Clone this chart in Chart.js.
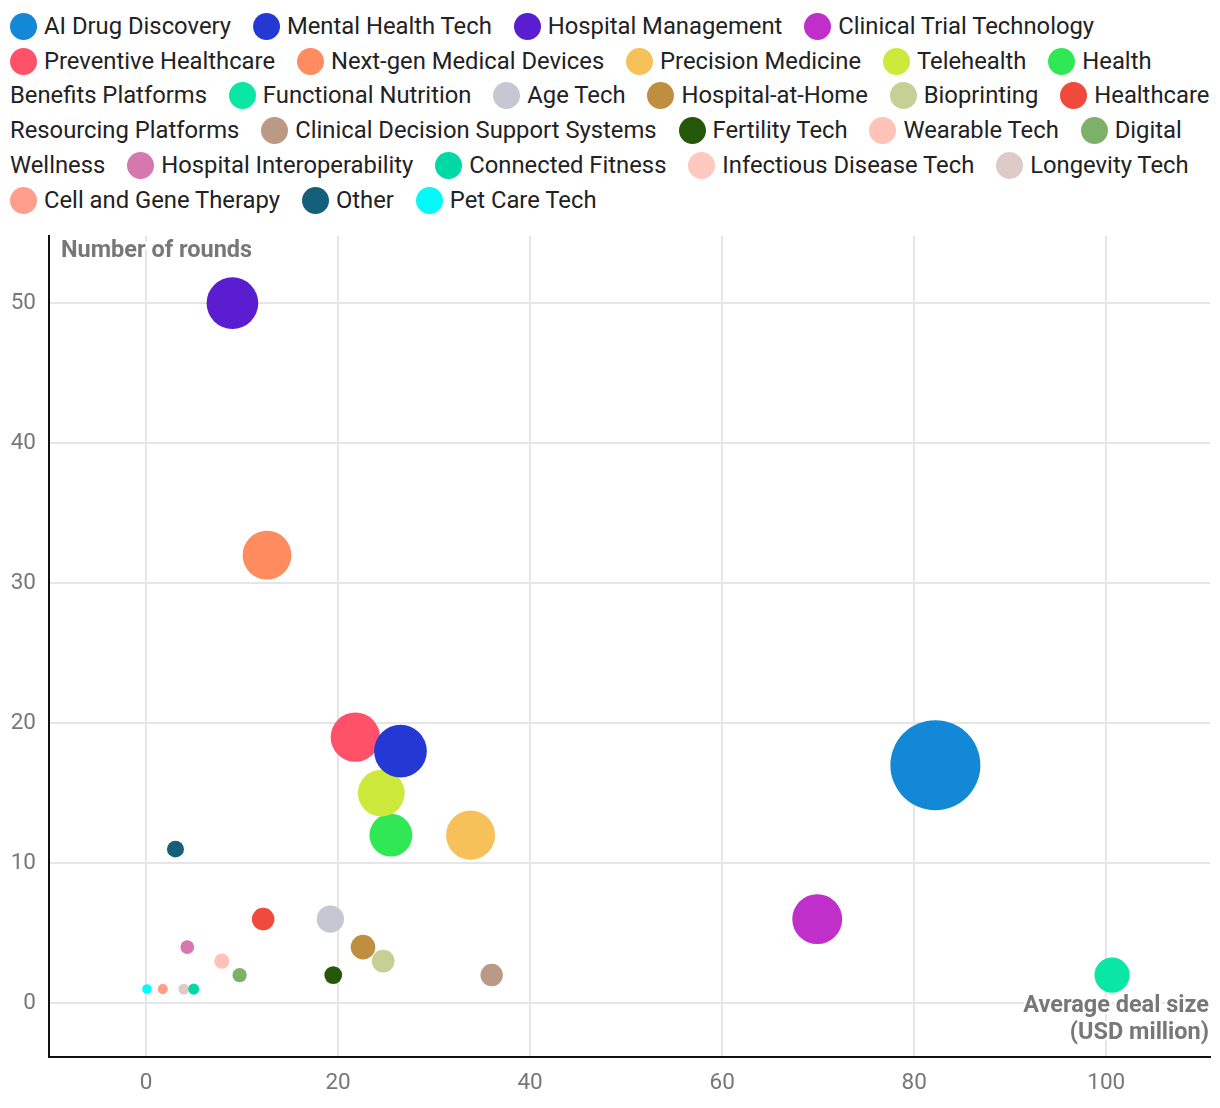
<!DOCTYPE html>
<html>
<head>
<meta charset="utf-8">
<script src="https://cdn.jsdelivr.net/npm/chart.js@4/dist/chart.umd.min.js"></script>
<style>
  body { margin: 0; background: #fff; font-family: Roboto, sans-serif; }
  #legend {
    position: absolute; left: 10px; top: 9px; width: 1205px;
    font-size: 23.8px; line-height: 34.7px; color: #222;
  }
  #legend .dot {
    display: inline-block; width: 27px; height: 27px; border-radius: 50%;
    vertical-align: -6px; margin-right: 7px;
  }
  #legend .head { white-space: nowrap; }
  #legend .lbl { margin-right: 16px; }
  #wrap { position: absolute; left: 0; top: 225px; width: 1220px; height: 883px; }
</style>
</head>
<body>
<div id="legend"></div>
<div id="wrap"><canvas id="chart"></canvas></div>
<script>
(function() {
  'use strict';
  // カテゴリ
  const categories = [
    'AI Drug Discovery', 'Mental Health Tech', 'Hospital Management', 'Clinical Trial Technology',
    'Preventive Healthcare', 'Next-gen Medical Devices', 'Precision Medicine', 'Telehealth',
    'Health Benefits Platforms', 'Functional Nutrition', 'Age Tech', 'Hospital-at-Home',
    'Bioprinting', 'Healthcare Resourcing Platforms', 'Clinical Decision Support Systems',
    'Fertility Tech', 'Wearable Tech', 'Digital Wellness', 'Hospital Interoperability',
    'Connected Fitness', 'Infectious Disease Tech', 'Longevity Tech', 'Cell and Gene Therapy',
    'Other', 'Pet Care Tech'
  ];
  // 平均案件規模 (USD million)
  const avgDealSize = [
    82.2, 26.5, 9.0, 69.9,
    21.8, 12.6, 33.8, 24.5,
    25.5, 100.6, 19.2, 22.6,
    24.7, 12.2, 36.0,
    19.5, 7.9, 9.75, 4.3,
    4.97, 7.9, 3.93, 1.75,
    3.07, 0.1
  ];
  // ラウンド数
  const rounds = [
    17, 18, 50, 6,
    19, 32, 12, 15,
    12, 2, 6, 4,
    3, 6, 2,
    2, 3, 2, 4,
    1, 3, 1, 1,
    11, 1
  ];
  // 総調達額 (USD million) - バブルの大きさ
  const totalFunding = [
    1400, 470, 450, 420,
    410, 400, 405, 365,
    305, 201, 115, 90,
    74, 73, 72,
    39, 24, 19.5, 17,
    5, 20, 3.9, 1.75,
    34, 0.1
  ];
  const colors = [
    '#1288d6', '#2438d4', '#5a1ed0', '#c02fc9',
    '#ff5268', '#ff8c5f', '#f7c159', '#cdea3c',
    '#30e856', '#0ae7a5', '#c5c7d3', '#bf8f40',
    '#c6d094', '#ef4a3c', '#bb9a85',
    '#245708', '#ffc2b6', '#7db16a', '#d678b0',
    '#00d9a5', '#ffc9c0', '#dccbc6', '#ff9e8a',
    '#155f7b', '#00fbfb'
  ];
  const xTicks = [0, 20, 40, 60, 80, 100];
  const yTicks = [0, 10, 20, 30, 40, 50];

  const tickColor = '#777777';
  const gridColor = '#e6e6e6';

  // 面積比例 + 最小サイズ
  function bubbleRadius(v) {
    return Math.sqrt(23.3 + 1.43 * v);
  }

  // 凡例 (HTML) - 丸と最初の単語は改行しない
  const legendElem = document.getElementById('legend');
  categories.forEach(function(name, i) {
    const words = name.split(' ');
    const lbl = document.createElement('span');
    lbl.className = 'lbl';
    const head = document.createElement('span');
    head.className = 'head';
    const dot = document.createElement('span');
    dot.className = 'dot';
    dot.style.background = colors[i];
    head.appendChild(dot);
    head.appendChild(document.createTextNode(words[0]));
    lbl.appendChild(head);
    if (words.length > 1) {
      lbl.appendChild(document.createTextNode(' ' + words.slice(1).join(' ')));
    }
    legendElem.appendChild(lbl);
    legendElem.appendChild(document.createTextNode(' '));
  });

  const datasets = categories.map(function(name, i) {
    return {
      label: name,
      data: [{ x: avgDealSize[i], y: rounds[i], r: bubbleRadius(totalFunding[i]) }],
      backgroundColor: colors[i],
      borderWidth: 0,
      hoverBorderWidth: 0
    };
  });

  // 軸タイトル
  const axisTitles = {
    id: 'axisTitles',
    afterDatasetsDraw(chart) {
      const ctx = chart.ctx;
      const area = chart.chartArea;
      ctx.save();
      ctx.font = 'bold 23.5px Roboto, sans-serif';
      ctx.lineJoin = 'round';
      ctx.lineWidth = 5;
      ctx.strokeStyle = '#ffffff';
      ctx.fillStyle = tickColor;
      ctx.textBaseline = 'middle';
      ctx.textAlign = 'left';
      ctx.strokeText('Number of rounds', area.left + 12, area.top + 15);
      ctx.fillText('Number of rounds', area.left + 12, area.top + 15);
      ctx.textAlign = 'right';
      ctx.strokeText('Average deal size', area.right - 1, area.bottom - 51);
      ctx.fillText('Average deal size', area.right - 1, area.bottom - 51);
      ctx.strokeText('(USD million)', area.right - 1, area.bottom - 24);
      ctx.fillText('(USD million)', area.right - 1, area.bottom - 24);
      ctx.restore();
    }
  };

  new Chart(document.getElementById('chart').getContext('2d'), {
    type: 'bubble',
    data: { datasets: datasets },
    options: {
      responsive: true,
      maintainAspectRatio: false,
      animation: false,
      events: [],
      layout: { autoPadding: false, padding: { top: 11, right: 10, left: 0, bottom: 0 } },
      plugins: {
        legend: { display: false },
        tooltip: { enabled: false }
      },
      scales: {
        x: {
          type: 'linear',
          min: -10.1,
          max: 110.8,
          afterBuildTicks(scale) {
            scale.ticks = xTicks.map(function(v) { return { value: v }; });
          },
          afterFit(scale) {
            scale.height = 51;
            scale.paddingLeft = 0;
            scale.paddingRight = 0;
          },
          grid: { color: gridColor, lineWidth: 2, drawTicks: false },
          border: { display: true, color: '#111111', width: 2 },
          ticks: {
            color: tickColor,
            padding: 13,
            font: { family: 'Roboto', size: 22.5 }
          }
        },
        y: {
          type: 'linear',
          min: -3.85,
          max: 54.8,
          afterBuildTicks(scale) {
            scale.ticks = yTicks.map(function(v) { return { value: v }; });
          },
          afterFit(scale) {
            scale.width = 49;
            scale.paddingTop = 0;
            scale.paddingBottom = 0;
          },
          grid: { color: gridColor, lineWidth: 2, drawTicks: false },
          border: { display: true, color: '#111111', width: 2 },
          ticks: {
            color: tickColor,
            padding: 13,
            font: { family: 'Roboto', size: 22.5 }
          }
        }
      }
    },
    plugins: [axisTitles]
  });
})();
</script>
</body>
</html>
